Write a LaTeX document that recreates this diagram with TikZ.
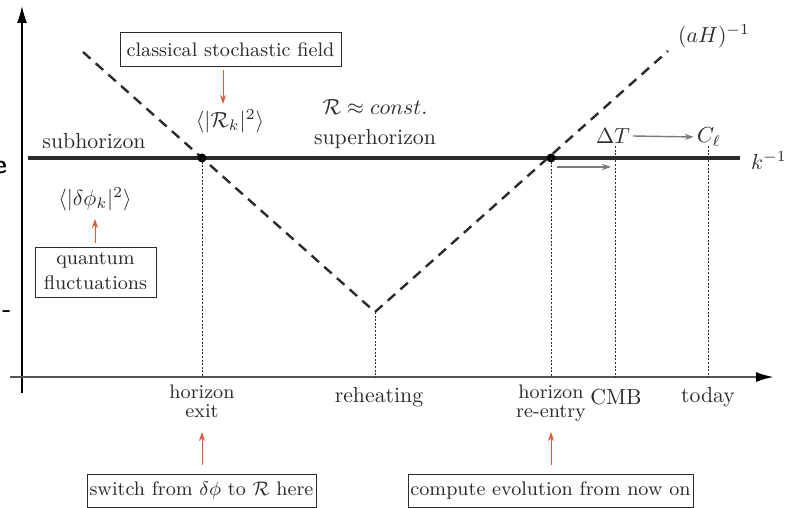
\documentclass[tikz,border=0pt]{standalone}
\usetikzlibrary{arrows.meta}
\definecolor{ink}{HTML}{2B2B2B}
\definecolor{axisgray}{HTML}{555555}
\definecolor{redar}{HTML}{E0583A}
\definecolor{grayar}{HTML}{7A7A7A}
\newcommand\Sz[1]{\scalebox{2.18}{#1}}
\newcommand\TwoL[3]{\begin{tabular}{@{}c@{}}#1\\[#3]#2\end{tabular}}
\begin{document}
\begin{tikzpicture}[x=1pt,y=-1pt,
  lab/.style={text=ink, inner sep=0pt, align=center},
  boxed/.style={lab, draw=ink, line width=1pt, inner sep=0pt},
  redarrow/.style={draw=redar, line width=1pt, -{Stealth[length=9pt,width=6pt]}},
  grayarrow/.style={draw=grayar, line width=1.4pt, -{Stealth[length=9pt,width=6pt]}},
  dotline/.style={draw=ink, line width=0.8pt, dash pattern=on 2pt off 1.6pt},
  horizon/.style={draw=ink, line width=2.4pt, dash pattern=on 10pt off 7pt},
  dotmark/.style={circle, fill=black, inner sep=0pt, minimum size=9pt}]
\useasboundingbox (0,0) rectangle (795,508);
% clipped fragments at left edge
\node[font=\sffamily\bfseries\fontsize{26}{28}\selectfont, anchor=east, inner sep=0pt] (frag1) at (7,167) {e};
\node[font=\sffamily\bfseries\fontsize{26}{28}\selectfont, inner sep=0pt] (frag2) at (7,314) {-};
% axes
\coordinate (ybot) at (22,393);
\coordinate (ytop) at (22,6);
\coordinate (xleft) at (10,377);
\coordinate (xright) at (774,377);
\draw[black, line width=1.3pt, -{Latex[length=17pt,width=10pt]}] (ybot) -- (ytop);
\draw[axisgray, line width=2.2pt, -{Latex[length=18pt,width=10pt,black]}] (xleft) -- (xright);
% k^-1 line
\coordinate (kl) at (28,158);
\coordinate (kr) at (740,158);
\draw[ink, line width=3pt] (kl) -- (kr);
\node[lab, anchor=west] (klab) at (751,161) {\Sz{$k^{-1}$}};
% horizon (aH)^-1
\coordinate (hs) at (83,52);
\coordinate (hv) at (375,312);
\coordinate (he) at (668,51);
\draw[horizon] (hs) -- (hv) -- (he);
\node[lab] (aHlab) at (714,36) {\Sz{$(aH)^{-1}$}};
% crossing points
\node[dotmark] (exitpt) at (202,158) {};
\node[dotmark] (entrypt) at (551,158) {};
% axis ground points
\coordinate (exitbase) at (202,377);
\coordinate (rehbase) at (375,377);
\coordinate (entrybase) at (551,377);
\coordinate (cmbtop) at (615,146);
\coordinate (cmbbase) at (615,377);
\coordinate (todaytop) at (708,146);
\coordinate (todaybase) at (708,377);
\draw[dotline] (exitpt.center) -- (exitbase);
\draw[dotline] (hv) -- (rehbase);
\draw[dotline] (entrypt.center) -- (entrybase);
\draw[dotline] (cmbtop) -- (cmbbase);
\draw[dotline] (todaytop) -- (todaybase);
% labels on the plot
\node[lab] (subh) at (94,141) {\Sz{subhorizon}};
\node[lab] (Rk) at (230,121) {\Sz{$\langle|\mathcal{R}_k|^2\rangle$}};
\node[lab] (Rconst) at (375,107) {\Sz{$\mathcal{R}\approx const.$}};
\node[lab] (superh) at (375,139) {\Sz{superhorizon}};
\node[lab] (dT) at (613,136) {\Sz{$\Delta T$}};
\node[lab] (Cl) at (709,137) {\Sz{$C_\ell$}};
\draw[grayarrow] ([xshift=3pt]dT.east) -- ([xshift=-3pt]Cl.west);
\coordinate (ga1) at (557,167);
\coordinate (ga2) at (611,167);
\draw[grayarrow] (ga1) -- (ga2);
\node[lab] (dphi) at (95,199) {\Sz{$\langle|\delta\phi_k|^2\rangle$}};
% boxes
\node[boxed, minimum width=221pt, minimum height=34pt] (csf) at (230.5,50) {\Sz{\small classical stochastic field}};
\coordinate (csfa) at (223,70);
\coordinate (csfb) at (223,104);
\draw[redarrow] (csfa) -- (csfb);
\node[boxed, minimum width=121pt, minimum height=50pt] (qf) at (95.5,272) {\Sz{\small\TwoL{quantum}{fluctuations}{0.6pt}}};
\coordinate (qfa) at (95,243);
\coordinate (qfb) at (95,219);
\draw[redarrow] (qfa) -- (qfb);
% axis labels
\node[lab] (hexit) at (202,403) {\Sz{\small\TwoL{horizon}{exit}{-2.3pt}}};
\node[lab] (reh) at (379,397) {\Sz{reheating}};
\node[lab] (hentry) at (551,403) {\Sz{\small\TwoL{horizon}{re-entry}{-2.3pt}}};
\node[lab] (cmb) at (616,397) {\Sz{CMB}};
\node[lab] (today) at (708,397) {\Sz{today}};
% bottom boxes
\node[boxed, minimum width=229pt, minimum height=33pt] (sw) at (201.5,490.5) {\Sz{\small switch from $\delta\phi$ to $\mathcal{R}$ here}};
\node[boxed, minimum width=285pt, minimum height=33pt] (ce) at (550.5,490.5) {\Sz{\small compute evolution from now on}};
\coordinate (sw1) at (202,465);
\coordinate (sw2) at (202,432);
\draw[redarrow] (sw1) -- (sw2);
\coordinate (ce1) at (551,465);
\coordinate (ce2) at (551,432);
\draw[redarrow] (ce1) -- (ce2);
\end{tikzpicture}
\end{document}
